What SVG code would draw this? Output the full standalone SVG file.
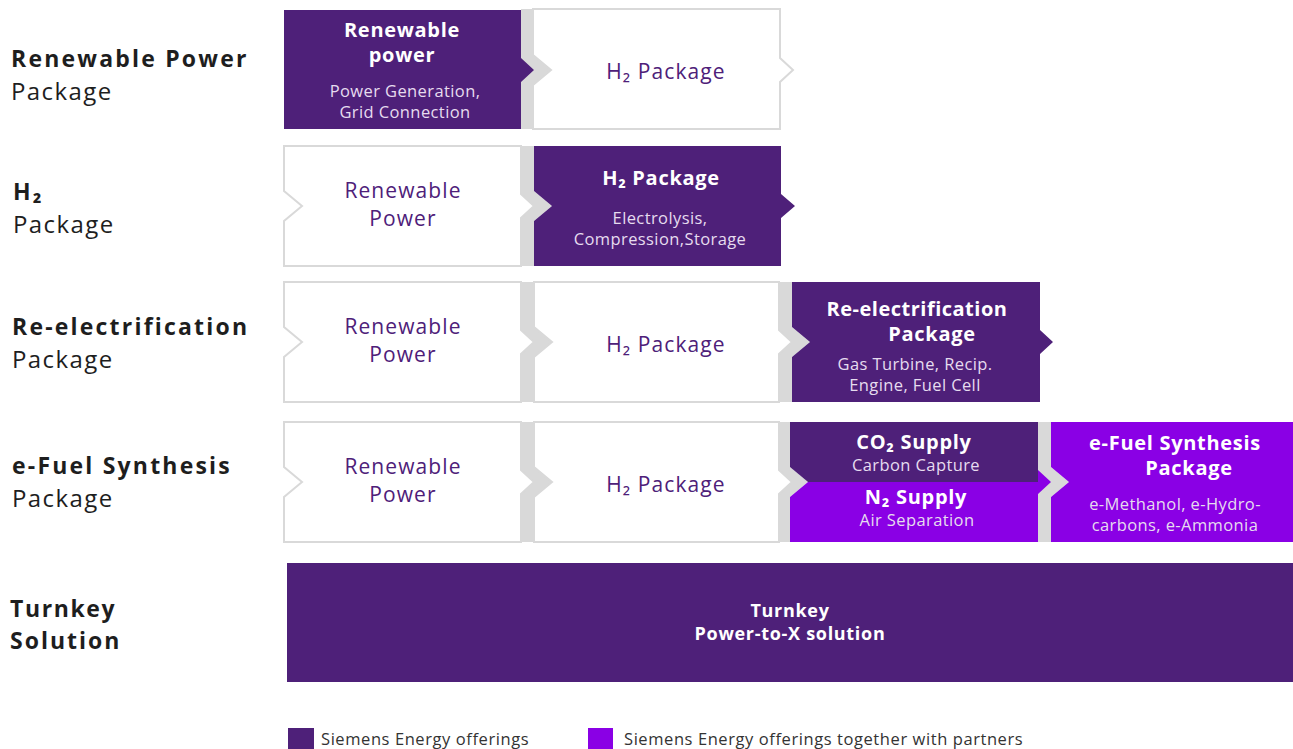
<svg xmlns="http://www.w3.org/2000/svg" width="1293" height="749" viewBox="0 0 1293 749">
<style>
text{font-family:"Open Sans","Noto Sans",sans-serif}
.band{fill:#d9d9d9}
.wcell{fill:#fff;stroke:#d9d9d9;stroke-width:2}
.dark{fill:#4e2079}
.bright{fill:#8a00e5}
.lbl{fill:#1e1e1e;font-weight:700;font-size:23px;letter-spacing:2.2px}
.lbl2{fill:#1e1e1e;font-size:24px;letter-spacing:1.4px}
.wt{fill:#4e2079;font-size:21px;letter-spacing:1.1px;text-anchor:middle}
.pt{fill:#fff;font-weight:700;font-size:20px;letter-spacing:0.7px;text-anchor:middle}
.ps{fill:#e6dcef;font-size:16.5px;letter-spacing:0.4px;text-anchor:middle}
.leg{fill:#333;font-size:16.5px;letter-spacing:0.58px}
</style>
<g id="connectors">
<polygon class="band" points="521,9 533,9 533,55 551,70 533,85 533,129 521,129"/>
<polygon class="band" points="521,146 534,146 534,191 552,206 534,221 534,266 521,266"/>
<polygon class="band" points="521,282 534,282 534,327 552,342 534,357 534,402 521,402"/>
<polygon class="band" points="779,282 792,282 792,327 810,342 792,357 792,402 779,402"/>
<polygon class="band" points="521,422 534,422 534,467 552,482 534,497 534,542 521,542"/>
<polygon class="band" points="779,422 790,422 790,467 808,482 790,497 790,542 779,542"/>
<polygon class="band" points="1038,422 1051,422 1051,467 1069,482 1051,497 1051,542 1038,542"/>
</g>
<g id="row-labels">
<text class="lbl" x="11" y="67">Renewable Power</text>
<text class="lbl2" x="11" y="100">Package</text>
<text class="lbl" x="13" y="200">H₂</text>
<text class="lbl2" x="13" y="233">Package</text>
<text class="lbl" x="12" y="335">Re-electrification</text>
<text class="lbl2" x="12" y="368">Package</text>
<text class="lbl" x="12" y="474">e-Fuel Synthesis</text>
<text class="lbl2" x="12" y="507">Package</text>
<text class="lbl" x="10" y="617" style="letter-spacing:1.6px">Turnkey</text>
<text class="lbl" x="10" y="649" style="letter-spacing:2px">Solution</text>
</g>
<g id="r1-renewable">
<polygon class="dark" points="284,10 521,10 521,58 534,70 521,82 521,129 284,129"/>
<text class="pt" x="402" y="37">Renewable</text>
<text class="pt" x="402" y="62">power</text>
<text class="ps" x="405" y="97">Power Generation,</text>
<text class="ps" x="405" y="118">Grid Connection</text>
</g>
<g id="r1-h2">
<polygon class="wcell" points="533,9 780,9 780,58 793,70 780,82 780,129 533,129 533,85 551,70 533,55"/>
<text class="wt" x="666" y="79">H₂ Package</text>
</g>
<g id="r2-renewable">
<polygon class="wcell" points="284,146 521,146 521,194 534,206 521,218 521,266 284,266 284,221 302,206 284,191"/>
<text class="wt" x="403" y="198">Renewable</text>
<text class="wt" x="403" y="226">Power</text>
</g>
<g id="r2-h2">
<polygon class="dark" points="534,146 781,146 781,194 795,206 781,218 781,266 534,266 534,221 552,206 534,191"/>
<text class="pt" x="661" y="185">H₂ Package</text>
<text class="ps" x="660" y="224">Electrolysis,</text>
<text class="ps" x="660" y="245">Compression,Storage</text>
</g>
<g id="r3-renewable">
<polygon class="wcell" points="284,282 521,282 521,330 534,342 521,354 521,402 284,402 284,357 302,342 284,327"/>
<text class="wt" x="403" y="334">Renewable</text>
<text class="wt" x="403" y="362">Power</text>
</g>
<g id="r3-h2">
<polygon class="wcell" points="534,282 779,282 779,330 792,342 779,354 779,402 534,402 534,357 552,342 534,327"/>
<text class="wt" x="666" y="352">H₂ Package</text>
</g>
<g id="r3-reelectrification">
<polygon class="dark" points="792,282 1040,282 1040,330 1053,342 1040,354 1040,402 792,402 792,357 810,342 792,327"/>
<text class="pt" x="917" y="316" style="letter-spacing:0.5px">Re-electrification</text>
<text class="pt" x="932" y="341">Package</text>
<text class="ps" x="915" y="370">Gas Turbine, Recip.</text>
<text class="ps" x="915" y="391">Engine, Fuel Cell</text>
</g>
<g id="r4-renewable">
<polygon class="wcell" points="284,422 521,422 521,470 534,482 521,494 521,542 284,542 284,497 302,482 284,467"/>
<text class="wt" x="403" y="474">Renewable</text>
<text class="wt" x="403" y="502">Power</text>
</g>
<g id="r4-h2">
<polygon class="wcell" points="534,422 779,422 779,470 792,482 779,494 779,542 534,542 534,497 552,482 534,467"/>
<text class="wt" x="666" y="492">H₂ Package</text>
</g>
<g id="r4-co2">
<polygon class="dark" points="790,422 1038,422 1038,482 808,482 790,467"/>
<text class="pt" x="914" y="449">CO₂ Supply</text>
<text class="ps" x="916" y="471">Carbon Capture</text>
</g>
<g id="r4-n2">
<polygon class="bright" points="808,482 1038,482 1038,470 1051,482 1038,494 1038,542 790,542 790,497"/>
<text class="pt" x="916" y="504">N₂ Supply</text>
<text class="ps" x="917" y="526">Air Separation</text>
</g>
<g id="r4-efuel">
<polygon class="bright" points="1051,422 1293,422 1293,542 1051,542 1051,497 1069,482 1051,467"/>
<text class="pt" x="1175" y="450">e-Fuel Synthesis</text>
<text class="pt" x="1189" y="475">Package</text>
<text class="ps" x="1175" y="510">e-Methanol, e-Hydro-</text>
<text class="ps" x="1175" y="531">carbons, e-Ammonia</text>
</g>
<g id="turnkey">
<rect class="dark" x="287" y="563" width="1006" height="119"/>
<text class="pt" x="790" y="617" style="font-size:18px">Turnkey</text>
<text class="pt" x="790" y="640" style="font-size:18px">Power-to-X solution</text>
</g>
<g id="legend">
<rect class="dark" x="288" y="728" width="26" height="21"/>
<text class="leg" x="321" y="745">Siemens Energy offerings</text>
<rect class="bright" x="588" y="728" width="25" height="21"/>
<text class="leg" x="624" y="745">Siemens Energy offerings together with partners</text>
</g>
</svg>
